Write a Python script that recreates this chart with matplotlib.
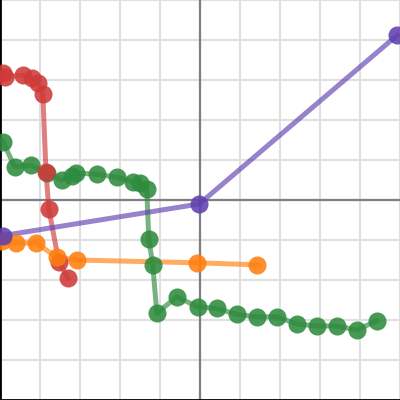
import matplotlib
matplotlib.use("Agg")
import matplotlib.pyplot as plt

purple_x = [-4.93, -0.02, 4.93]
purple_y = [-0.89, -0.1, 4.12]

orange_x = [-4.95, -4.6, -4.1, -3.58, -3.08, -0.08, 1.42]
orange_y = [-1.03, -1.08, -1.07, -1.43, -1.5, -1.57, -1.62]

red_x = [-4.93, -4.88, -4.43, -4.2, -4.05, -3.93, -3.85, -3.78, -3.53, -3.3]
red_y = [3.18, 3.08, 3.12, 3.05, 2.92, 2.65, 0.7, -0.22, -1.55, -1.95]

green_x = [-4.93, -4.63, -4.23, -3.83, -3.46, -3.21, -3.1, -2.58, -2.08, -1.67,
           -1.5, -1.33, -1.28, -1.18, -1.08, -0.58, -0.06, 0.42, 0.92, 1.42,
           1.92, 2.43, 2.92, 3.42, 3.92, 4.42]
green_y = [1.46, 0.83, 0.87, 0.68, 0.5, 0.6, 0.68, 0.64, 0.57, 0.46,
           0.43, 0.27, -0.98, -1.63, -2.83, -2.42, -2.67, -2.71, -2.86, -2.92,
           -2.92, -3.1, -3.15, -3.15, -3.25, -3.02]

fig = plt.figure(figsize=(4, 4), dpi=100)
ax = fig.add_axes([0, 0, 1, 1])
ax.set_xlim(-5, 5)
ax.set_ylim(-5, 5)
ax.set_axisbelow(True)

ticks = list(range(-5, 6))
ax.set_xticks(ticks)
ax.set_yticks(ticks)
ax.grid(True, color="#e0e0e0", linewidth=1.5, zorder=0)
ax.axhline(0, color="#808080", linewidth=1.6, zorder=2)
ax.axvline(0, color="#808080", linewidth=1.6, zorder=2)
ax.tick_params(length=0, labelleft=False, labelbottom=False)
for s in ["top", "right"]:
    ax.spines[s].set_visible(False)
for s in ["left", "bottom"]:
    ax.spines[s].set_color("black")
    ax.spines[s].set_linewidth(2)

series = [
    (green_x, green_y, "#2e8b3e"),
    (red_x, red_y, "#d03a3a"),
    (orange_x, orange_y, "#ff7f0e"),
    (purple_x, purple_y, "#6040b0"),
]
for xs, ys, c in series:
    ax.plot(xs, ys, color=c, linewidth=3.6, alpha=0.65, zorder=3)
    ax.plot(xs, ys, linestyle="none", marker="o", markersize=13,
            color=c, alpha=0.88, markeredgewidth=0, zorder=4)

fig.savefig("out.png", dpi=100)
